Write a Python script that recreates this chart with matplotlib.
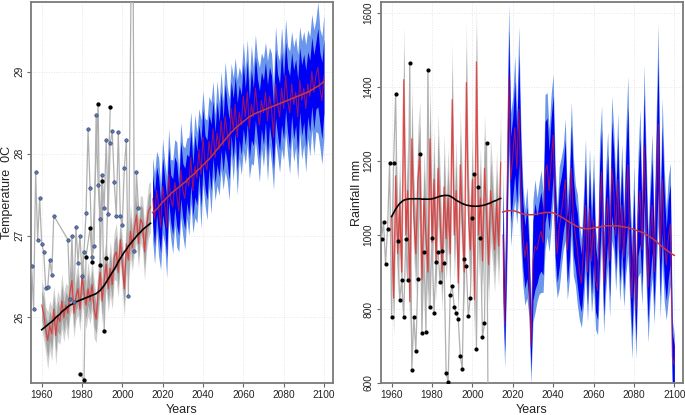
import numpy as np
import matplotlib
matplotlib.use("Agg")
import matplotlib.pyplot as plt

plt.rcParams['font.family'] = ['Liberation Sans', 'DejaVu Sans']

# ---------------- data: temperature (left) ----------------
obsA_years = [1955, 1956, 1957, 1958, 1959, 1960, 1961, 1962, 1963, 1964, 1965, 1966,
              1973, 1974, 1975, 1976, 1977, 1978, 1979, 1980, 1981, 1982, 1983, 1984,
              1985, 1986, 1987, 1988, 1989, 1990, 1991, 1992, 1993, 1994, 1995, 1996,
              1997, 1998, 1999, 2000, 2001, 2002, 2003, 2005, 2006, 2007, 2008]
obsA_temp = [26.63, 26.10, 27.77, 26.95, 27.46, 26.90, 26.80, 26.36, 26.37, 26.70, 26.52, 27.24,
             26.95, 26.22, 27.00, 26.19, 27.10, 26.67, 27.00, 26.51, 26.80, 27.28, 28.30, 27.58,
             26.74, 26.87, 28.47, 27.62, 27.20, 27.74, 27.33, 28.17, 27.26, 28.13, 28.27, 27.65,
             27.24, 28.26, 27.24, 27.13, 27.83, 28.16, 26.26, 32.00, 26.81, 27.77, 27.34]
obsB_years = [1979, 1981, 1982, 1984, 1985, 1988, 1989, 1990, 1991, 1992, 1994]
obsB_temp = [25.31, 25.24, 26.74, 27.09, 26.68, 28.61, 26.64, 27.66, 25.84, 26.73, 28.57]

hist_years = list(range(1960, 2015))
fc_years = list(range(2015, 2101))

t_hist_mean = [26.15, 26.05, 25.85, 25.72, 25.90, 25.80, 26.10, 25.78, 26.02, 25.95,
               26.20, 26.00, 26.15, 26.05, 26.30, 26.45, 26.05, 26.25, 26.35, 26.10,
               26.50, 26.30, 26.15, 26.35, 26.20, 26.40, 26.10, 25.98, 26.30, 26.55,
               26.20, 26.45, 26.65, 26.35, 26.60, 26.40, 26.75, 26.80, 26.55, 26.95,
               26.65, 26.35, 26.90, 26.70, 27.05, 26.85, 27.10, 27.25, 26.90, 27.20,
               27.15, 26.80, 27.10, 27.30, 27.35]
t_hist_smooth = [25.85, 25.87, 25.89, 25.91, 25.93, 25.95, 25.97, 26.00, 26.02, 26.04,
                 26.07, 26.09, 26.11, 26.13, 26.15, 26.16, 26.18, 26.19, 26.20, 26.21,
                 26.22, 26.23, 26.24, 26.25, 26.26, 26.27, 26.28, 26.29, 26.31, 26.33,
                 26.36, 26.39, 26.43, 26.47, 26.51, 26.55, 26.59, 26.63, 26.68, 26.72,
                 26.76, 26.80, 26.83, 26.87, 26.90, 26.93, 26.96, 26.99, 27.02, 27.04,
                 27.07, 27.09, 27.11, 27.13, 27.15]
t_hist_spread = [0.30, 0.32, 0.28, 0.35, 0.30, 0.33, 0.29, 0.36, 0.31, 0.28,
                 0.34, 0.30, 0.27, 0.33, 0.29, 0.35, 0.30, 0.28, 0.32, 0.27,
                 0.34, 0.30, 0.29, 0.33, 0.28, 0.31, 0.35, 0.29, 0.32, 0.30,
                 0.27, 0.34, 0.31, 0.28, 0.33, 0.30, 0.29, 0.35, 0.31, 0.28,
                 0.32, 0.36, 0.30, 0.29, 0.33, 0.28, 0.31, 0.34, 0.30, 0.29,
                 0.32, 0.35, 0.30, 0.33, 0.31]

t_fc_mean = [27.45, 27.20, 27.55, 27.35, 27.10, 27.60, 27.40, 27.10, 27.75, 27.45,
             27.35, 27.65, 27.50, 27.30, 27.80, 27.55, 27.45, 27.70, 27.60, 27.95,
             27.55, 27.85, 27.70, 28.05, 27.75, 28.20, 27.90, 27.80, 28.15, 27.95,
             28.30, 27.95, 28.25, 28.05, 28.40, 28.10, 28.45, 28.25, 28.05, 28.55,
             28.30, 28.60, 28.20, 28.50, 28.35, 28.70, 28.45, 28.75, 28.30, 28.60,
             28.45, 28.80, 28.55, 28.35, 28.65, 28.50, 28.75, 28.40, 28.70, 28.55,
             28.20, 28.85, 28.60, 28.45, 28.80, 28.55, 28.95, 28.65, 28.50, 28.85,
             28.60, 28.75, 28.45, 28.90, 28.65, 28.80, 28.55, 28.85, 28.70, 29.00,
             28.75, 28.95, 29.05, 28.80, 28.65, 28.95]
t_fc_smooth = [27.28, 27.30, 27.32, 27.35, 27.38, 27.41, 27.43, 27.46, 27.48, 27.51,
               27.53, 27.55, 27.57, 27.59, 27.61, 27.63, 27.65, 27.67, 27.70, 27.72,
               27.74, 27.76, 27.79, 27.81, 27.83, 27.86, 27.88, 27.91, 27.93, 27.96,
               27.99, 28.02, 28.05, 28.08, 28.11, 28.14, 28.17, 28.20, 28.23, 28.26,
               28.28, 28.31, 28.33, 28.35, 28.37, 28.39, 28.41, 28.43, 28.45, 28.46,
               28.48, 28.49, 28.50, 28.51, 28.52, 28.53, 28.54, 28.55, 28.56, 28.57,
               28.58, 28.59, 28.60, 28.61, 28.62, 28.63, 28.64, 28.65, 28.66, 28.67,
               28.68, 28.69, 28.70, 28.71, 28.72, 28.73, 28.74, 28.75, 28.76, 28.78,
               28.79, 28.81, 28.82, 28.84, 28.86, 28.88]
t_fc_spread = [0.50, 0.55, 0.48, 0.60, 0.52, 0.58, 0.50, 0.62, 0.55, 0.48,
               0.57, 0.52, 0.64, 0.50, 0.58, 0.55, 0.62, 0.49, 0.60, 0.56,
               0.52, 0.63, 0.55, 0.50, 0.66, 0.57, 0.53, 0.61, 0.55, 0.68,
               0.58, 0.52, 0.64, 0.56, 0.60, 0.54, 0.67, 0.58, 0.62, 0.55,
               0.63, 0.57, 0.70, 0.56, 0.61, 0.66, 0.58, 0.64, 0.60, 0.72,
               0.59, 0.65, 0.62, 0.70, 0.58, 0.66, 0.61, 0.73, 0.60, 0.67,
               0.64, 0.70, 0.62, 0.68, 0.74, 0.63, 0.69, 0.66, 0.75, 0.64,
               0.70, 0.67, 0.76, 0.65, 0.72, 0.69, 0.78, 0.66, 0.73, 0.70,
               0.76, 0.68, 0.80, 0.72, 0.78, 0.75]

# ---------------- data: rainfall (right) ----------------
obsR_years = list(range(1955, 2009))
obsR_rain = [990, 1036, 921, 1017, 1196, 779, 1196, 1380, 984, 825,
             879, 779, 989, 879, 1465, 636, 779, 687, 881, 1218,
             735, 955, 739, 1447, 805, 992, 789, 927, 954, 873,
             956, 925, 627, 603, 839, 862, 806, 789, 773, 674,
             638, 936, 915, 781, 831, 1046, 1164, 692, 1130, 992,
             724, 762, 1248, 300]

r_hist_mean = [1050, 830, 1160, 950, 1080, 900, 1420, 1000, 1120, 820,
               1260, 1050, 950, 1150, 1210, 880, 1100, 1000, 900, 1260,
               980, 1150, 930, 1180, 1050, 900, 1130, 990, 1100, 950,
               1366, 1000, 1120, 870, 1190, 1040, 900, 1412, 1060, 960,
               1150, 825, 1468, 1000, 1100, 930, 1180, 1060, 920, 1120,
               1050, 960, 1090, 970, 1195]
r_hist_smooth = [1050, 1060, 1070, 1078, 1085, 1090, 1094, 1096, 1097, 1098,
                 1098, 1098, 1098, 1098, 1098, 1097, 1097, 1097, 1097, 1097,
                 1098, 1099, 1101, 1103, 1105, 1106, 1107, 1107, 1107, 1105,
                 1102, 1098, 1094, 1091, 1088, 1085, 1083, 1081, 1080, 1079,
                 1078, 1078, 1078, 1078, 1079, 1080, 1081, 1083, 1085, 1087,
                 1090, 1092, 1094, 1097, 1099]
r_hist_spread = [115, 105, 140, 110, 130, 105, 150, 120, 135, 100,
                 145, 115, 110, 140, 150, 105, 130, 115, 110, 155,
                 120, 140, 110, 150, 130, 105, 145, 115, 135, 110,
                 155, 120, 140, 105, 145, 130, 110, 165, 120, 115,
                 140, 105, 160, 120, 135, 110, 145, 130, 110, 140,
                 130, 115, 135, 110, 150]

r_fc_mean = [1000, 760, 1050, 1430, 1150, 1210, 1290, 1180, 1340, 1130,
             1000, 940, 980, 900, 700, 930, 970, 960, 990, 1010,
             980, 1170, 1190, 1120, 1200, 1270, 1040, 950, 1020, 1060,
             1100, 1150, 960, 1030, 1180, 1050, 1000, 960, 900, 870,
             960, 1080, 900, 1070, 930, 1040, 880, 850, 1060, 1170,
             870, 1010, 1100, 930, 1180, 1120, 1000, 1150, 960, 1080,
             940, 1090, 1190, 960, 830, 1010, 800, 1050, 1120, 960,
             1240, 1050, 860, 990, 1080, 900, 1110, 1300, 940, 1150,
             1000, 920, 990, 1030, 670, 650]
r_fc_smooth = [1062, 1064, 1065, 1066, 1066, 1066, 1065, 1063, 1061, 1059,
               1057, 1056, 1055, 1055, 1055, 1055, 1056, 1057, 1058, 1059,
               1060, 1061, 1061, 1061, 1061, 1060, 1058, 1055, 1052, 1049,
               1046, 1042, 1039, 1035, 1032, 1029, 1026, 1023, 1021, 1019,
               1018, 1017, 1017, 1017, 1018, 1019, 1020, 1021, 1022, 1023,
               1024, 1025, 1025, 1025, 1025, 1025, 1025, 1025, 1024, 1023,
               1022, 1021, 1020, 1018, 1017, 1015, 1013, 1011, 1009, 1007,
               1005, 1002, 999, 995, 991, 987, 983, 978, 973, 968,
               964, 960, 956, 952, 948, 945]
r_fc_spread = [180, 120, 165, 195, 180, 165, 195, 150, 225, 165,
               135, 130, 150, 120, 105, 165, 180, 140, 150, 165,
               135, 210, 195, 165, 180, 165, 150, 120, 165, 150,
               140, 165, 135, 150, 180, 160, 135, 150, 130, 120,
               150, 180, 135, 165, 140, 180, 135, 120, 195, 180,
               135, 165, 180, 150, 195, 165, 150, 180, 140, 165,
               135, 195, 240, 150, 165, 180, 135, 165, 220, 150,
               220, 180, 150, 165, 195, 140, 210, 270, 165, 220,
               180, 150, 165, 165, 100, 80]

x_ticks = [1960, 1980, 2000, 2020, 2040, 2060, 2080, 2100]
t_ticks = [26, 27, 28, 29]
r_ticks = [600, 800, 1000, 1200, 1400, 1600]

# ---------------- styling ----------------
GRAY_OUT = '#d0d0d0'
GRAY_IN = '#a3a3a3'
BLUE_OUT = '#6a96ec'
BLUE_IN = '#0000f5'
RED = '#f02020'
SMOOTH_RED = '#c23a48'
OBS_LINE = '#b0b0b0'

fig = plt.figure(figsize=(6.85, 4.15), dpi=100)
axL = fig.add_axes([31/685, 32/415, 302/685, 381/415])
axR = fig.add_axes([380.7/685, 32/415, 302.3/685, 381/415])


def draw_panel(ax, h_mean, h_smooth, h_spread, f_mean, f_smooth, f_spread, inner):
    hm = np.array(h_mean, float); hs = np.array(h_spread, float)
    fm = np.array(f_mean, float); fs = np.array(f_spread, float)
    ax.fill_between(hist_years, hm - hs, hm + hs, color=GRAY_OUT, lw=0, zorder=2)
    ax.fill_between(hist_years, hm - 0.6 * hs, hm + 0.6 * hs, color=GRAY_IN, lw=0, zorder=2)
    ax.fill_between(fc_years, fm - fs, fm + fs, color=BLUE_OUT, lw=0, zorder=2)
    ax.fill_between(fc_years, fm - inner * fs, fm + inner * fs, color=BLUE_IN, lw=0, zorder=2)
    ax.plot(hist_years, hm, color=RED, lw=0.9, alpha=0.75, zorder=4)
    ax.plot(fc_years, fm, color=RED, lw=0.8, alpha=0.6, zorder=4)
    ax.plot(hist_years, h_smooth, color='black', lw=1.2, zorder=5)
    ax.plot(fc_years, f_smooth, color=SMOOTH_RED, lw=1.1, zorder=5)


def style(ax, yticks, ylim, ylabel):
    ax.set_xlim(1954.7, 2104.5)
    ax.set_ylim(*ylim)
    ax.set_xticks(x_ticks)
    ax.set_yticks(yticks)
    ax.grid(True, color='#dcdcdc', linestyle=(0, (1, 2)), lw=0.6, zorder=0)
    ax.set_axisbelow(True)
    for s in ax.spines.values():
        s.set_color('#7a7a7a')
        s.set_linewidth(1.3)
    ax.tick_params(axis='both', labelsize=7.3, color='#666666', length=3, width=0.8,
                   labelcolor='#222222', pad=2)
    for lab in ax.get_yticklabels():
        lab.set_rotation(90)
        lab.set_va('center')
    ax.set_xlabel('Years', fontsize=9, labelpad=3, color='#222222')
    ax.set_ylabel(ylabel, fontsize=9, labelpad=0.5, color='#222222')


# left panel
draw_panel(axL, t_hist_mean, t_hist_smooth, t_hist_spread, t_fc_mean, t_fc_smooth, t_fc_spread, 0.6)
axL.plot(obsA_years, obsA_temp, color=OBS_LINE, lw=0.9, zorder=3)
axL.plot(obsB_years, obsB_temp, color=OBS_LINE, lw=0.9, zorder=3)
axL.plot(obsA_years, obsA_temp, linestyle='none', marker='o', ms=2.5,
         mfc='#5a78b0', mec='#2c3a66', mew=0.4, zorder=6)
axL.plot(obsB_years, obsB_temp, linestyle='none', marker='o', ms=2.1,
         mfc='black', mec='black', zorder=6)
style(axL, t_ticks, (25.2, 29.85), 'Temperature  0C')

# right panel
draw_panel(axR, r_hist_mean, r_hist_smooth, r_hist_spread, r_fc_mean, r_fc_smooth, r_fc_spread, 0.65)
axR.plot(obsR_years, obsR_rain, color=OBS_LINE, lw=0.9, zorder=3)
axR.plot(obsR_years, obsR_rain, linestyle='none', marker='o', ms=2.0,
         mfc='black', mec='black', zorder=6)
style(axR, r_ticks, (600, 1630), 'Rainfall mm')
axR.set_xlim(1954.6, 2104.3)

fig.savefig('out.png', dpi=100)
